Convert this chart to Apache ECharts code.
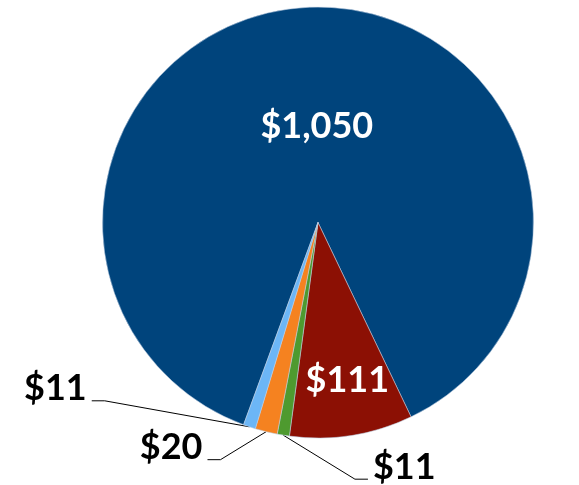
<!DOCTYPE html>
<html><head><meta charset="utf-8">
<script src="https://cdn.jsdelivr.net/npm/echarts@6/dist/echarts.min.js"></script>
<style>html,body{margin:0;padding:0;background:#fff}#c{width:579px;height:485px}</style>
</head><body><div id="c"></div>
<script>
// ---- data ----
const categories = ['Segment A', 'Segment B', 'Segment C', 'Segment D', 'Segment E'];
const values = [1050, 111, 11, 20, 11];
const colors = ['#00447C', '#8C1004', '#4E9A2F', '#F58220', '#6CB6F6'];
const labelInside = [true, true, false, false, false];

// ---- label layout tweaks (pixel offsets, styling only) ----
const insideShift = { 0: [4, 15], 1: [12, 48] };
const outsideLayout = {
  2: { dx: 121, dy: 32, side: -1 },
  3: { dx: -95, dy: 16, side: 1 },
  4: { dx: -194, dy: -38, side: 1 }
};

const chart = echarts.init(document.getElementById('c'), null, { renderer: 'canvas' });

const data = values.map((v, i) => ({
  value: v,
  name: categories[i],
  itemStyle: { color: colors[i] },
  label: labelInside[i]
    ? { position: 'inside', color: '#ffffff' }
    : { position: 'outside', color: '#000000' },
  labelLine: { show: !labelInside[i], length: 10, length2: 10, lineStyle: { color: '#000', width: 1 } }
}));

chart.setOption({
  backgroundColor: '#ffffff',
  animation: false,
  series: [{
    type: 'pie',
    center: [318, 222.5],
    radius: 215.5,
    startAngle: 249.8,
    clockwise: true,
    avoidLabelOverlap: false,
    emphasis: { disabled: true },
    itemStyle: { borderColor: 'rgba(190,205,225,0.55)', borderWidth: 1 },
    label: {
      fontFamily: 'Lato',
      fontWeight: 'bold',
      fontSize: 36,
      formatter: p => '$' + p.value.toLocaleString('en-US')
    },
    labelLayout: function (p) {
      const i = p.dataIndex;
      const r = p.labelRect;
      if (insideShift[i]) {
        return {
          x: r.x + r.width / 2 + insideShift[i][0],
          y: r.y + r.height / 2 + insideShift[i][1],
          align: 'center', verticalAlign: 'middle'
        };
      }
      const o = outsideLayout[i];
      const p0 = p.labelLinePoints[0];
      const cx = p0[0] + o.dx, cy = p0[1] + o.dy;
      const ax = cx + o.side * (r.width / 2 + 5);
      const ay = cy + 12;
      return {
        x: cx, y: cy, align: 'center', verticalAlign: 'middle',
        labelLinePoints: [p0, [ax + o.side * 13, ay], [ax, ay]]
      };
    },
    data: data
  }]
});
</script>
</body></html>
